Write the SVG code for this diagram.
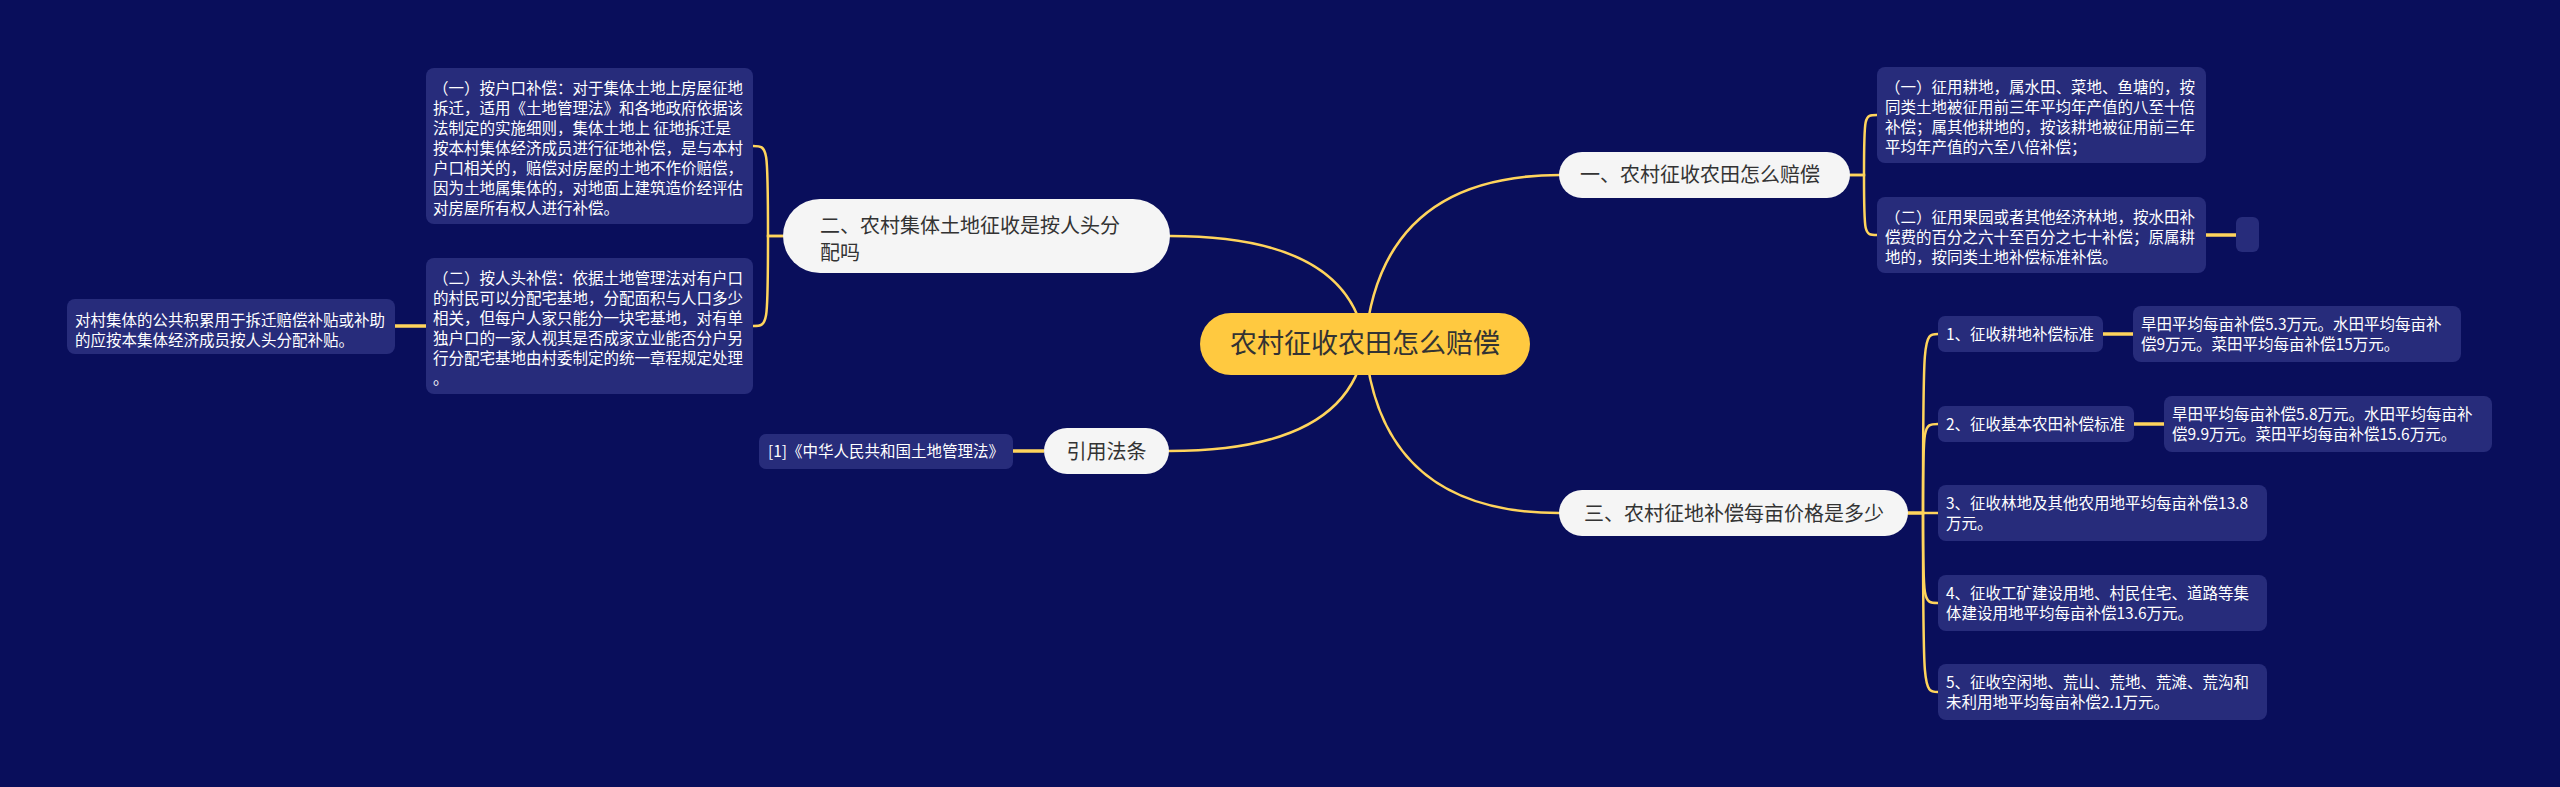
<svg xmlns="http://www.w3.org/2000/svg" width="2560" height="787" viewBox="0 0 2560 787">
<style>
.bg{fill:#090e5b}
.link{fill:none;stroke:#ffd45c;stroke-width:2.5;stroke-linecap:round}
.short{fill:none;stroke:#ffd45c;stroke-width:3.5}
.leaf{fill:#272c7b}
.topic{fill:#f5f5f5}
.root{fill:#ffc940}
text{font-family:"Noto Sans CJK SC","Microsoft YaHei","Noto Sans",sans-serif}
.lt{font-size:15.5px;fill:#ffffff}
.tt{font-size:20px;fill:#333333}
.rt{font-size:27px;fill:#333333}
</style>
<rect class="bg" x="0" y="0" width="2560" height="787"/>
<g id="connectors">
<path class="link" d="M1365,344 Q1350,236 1170,236"/>
<path class="link" d="M1365,344 Q1380,175 1560,175"/>
<path class="link" d="M1365,344 Q1350,451 1169,451"/>
<path class="link" d="M1365,344 Q1380,513 1559,513"/>
<path class="link" d="M783,236 H768 C768,146 768,146 753,146"/>
<path class="link" d="M783,236 H768 C768,326 768,326 753,326"/>
<path class="link" d="M1850,175 H1864 C1864,115 1864,115 1877,115"/>
<path class="link" d="M1850,175 H1864 C1864,235 1864,235 1877,235"/>
<path class="link" d="M1908,513 H1923 C1923,334 1923,334 1938,334"/>
<path class="link" d="M1908,513 H1923 C1923,424 1923,424 1938,424"/>
<path class="link" d="M1908,513 H1938"/>
<path class="link" d="M1908,513 H1923 C1923,603 1923,603 1938,603"/>
<path class="link" d="M1908,513 H1923 C1923,692 1923,692 1938,692"/>
<path class="short" d="M426,326 H395"/>
<path class="short" d="M1044,451 H1013"/>
<path class="short" d="M2206,235 H2236"/>
<path class="short" d="M2103,334 H2133"/>
<path class="short" d="M2134,424 H2164"/>
</g>
<g id="root">
<rect class="root" x="1200" y="313" width="330" height="62" rx="31"/>
<text class="rt" x="1365" y="353" text-anchor="middle">农村征收农田怎么赔偿</text>
</g>
<g id="topic1">
<rect class="topic" x="1559" y="152" width="291" height="46" rx="23"/>
<text class="tt" x="1580" y="182">一、农村征收农田怎么赔偿</text>
</g>
<g id="topic2">
<rect class="topic" x="783" y="199" width="387" height="74" rx="37"/>
<text class="tt" x="820" y="233">二、农村集体土地征收是按人头分</text>
<text class="tt" x="820" y="260">配吗</text>
</g>
<g id="topic3">
<rect class="topic" x="1559" y="490" width="349" height="46" rx="23"/>
<text class="tt" x="1584" y="521">三、农村征地补偿每亩价格是多少</text>
</g>
<g id="topic4">
<rect class="topic" x="1044" y="428" width="125" height="46" rx="23"/>
<text class="tt" x="1106.5" y="459" text-anchor="middle">引用法条</text>
</g>
<g id="leaf-l1">
<rect class="leaf" x="426" y="68" width="327" height="156" rx="8"/>
<text class="lt" x="433" y="94">（一）按户口补偿：对于集体土地上房屋征地</text>
<text class="lt" x="433" y="114">拆迁，适用《土地管理法》和各地政府依据该</text>
<text class="lt" x="433" y="134">法制定的实施细则，集体土地上 征地拆迁是</text>
<text class="lt" x="433" y="154">按本村集体经济成员进行征地补偿，是与本村</text>
<text class="lt" x="433" y="174">户口相关的，赔偿对房屋的土地不作价赔偿，</text>
<text class="lt" x="433" y="194">因为土地属集体的，对地面上建筑造价经评估</text>
<text class="lt" x="433" y="214">对房屋所有权人进行补偿。</text>
</g>
<g id="leaf-l2">
<rect class="leaf" x="426" y="258" width="327" height="136" rx="8"/>
<text class="lt" x="433" y="284">（二）按人头补偿：依据土地管理法对有户口</text>
<text class="lt" x="433" y="304">的村民可以分配宅基地，分配面积与人口多少</text>
<text class="lt" x="433" y="324">相关，但每户人家只能分一块宅基地，对有单</text>
<text class="lt" x="433" y="344">独户口的一家人视其是否成家立业能否分户另</text>
<text class="lt" x="433" y="364">行分配宅基地由村委制定的统一章程规定处理</text>
<text class="lt" x="433" y="384">。</text>
</g>
<g id="leaf-l3">
<rect class="leaf" x="67" y="299" width="328" height="55" rx="8"/>
<text class="lt" x="75" y="326">对村集体的公共积累用于拆迁赔偿补贴或补助</text>
<text class="lt" x="75" y="346">的应按本集体经济成员按人头分配补贴。</text>
</g>
<g id="leaf-ref">
<rect class="leaf" x="759" y="434" width="254" height="35" rx="7"/>
<text class="lt" x="768" y="457">[1]《中华人民共和国土地管理法》</text>
</g>
<g id="leaf-r1">
<rect class="leaf" x="1877" y="67" width="329" height="96" rx="8"/>
<text class="lt" x="1885" y="93">（一）征用耕地，属水田、菜地、鱼塘的，按</text>
<text class="lt" x="1885" y="113">同类土地被征用前三年平均年产值的八至十倍</text>
<text class="lt" x="1885" y="133">补偿；属其他耕地的，按该耕地被征用前三年</text>
<text class="lt" x="1885" y="153">平均年产值的六至八倍补偿；</text>
</g>
<g id="leaf-r2">
<rect class="leaf" x="1877" y="197" width="329" height="76" rx="8"/>
<text class="lt" x="1885" y="223">（二）征用果园或者其他经济林地，按水田补</text>
<text class="lt" x="1885" y="243">偿费的百分之六十至百分之七十补偿；原属耕</text>
<text class="lt" x="1885" y="263">地的，按同类土地补偿标准补偿。</text>
</g>
<g id="leaf-r2-empty">
<rect class="leaf" x="2236" y="217" width="23" height="35" rx="6"/>
</g>
<g id="item1">
<rect class="leaf" x="1938" y="316" width="165" height="36" rx="7"/>
<text class="lt" x="1946" y="340">1、征收耕地补偿标准</text>
</g>
<g id="item1-detail">
<rect class="leaf" x="2133" y="306" width="328" height="56" rx="8"/>
<text class="lt" x="2141" y="330">旱田平均每亩补偿5.3万元。水田平均每亩补</text>
<text class="lt" x="2141" y="350">偿9万元。菜田平均每亩补偿15万元。</text>
</g>
<g id="item2">
<rect class="leaf" x="1938" y="406" width="196" height="36" rx="7"/>
<text class="lt" x="1946" y="430">2、征收基本农田补偿标准</text>
</g>
<g id="item2-detail">
<rect class="leaf" x="2164" y="396" width="328" height="56" rx="8"/>
<text class="lt" x="2172" y="420">旱田平均每亩补偿5.8万元。水田平均每亩补</text>
<text class="lt" x="2172" y="440">偿9.9万元。菜田平均每亩补偿15.6万元。</text>
</g>
<g id="item3">
<rect class="leaf" x="1938" y="485" width="329" height="56" rx="8"/>
<text class="lt" x="1946" y="509">3、征收林地及其他农用地平均每亩补偿13.8</text>
<text class="lt" x="1946" y="529">万元。</text>
</g>
<g id="item4">
<rect class="leaf" x="1938" y="575" width="329" height="56" rx="8"/>
<text class="lt" x="1946" y="599">4、征收工矿建设用地、村民住宅、道路等集</text>
<text class="lt" x="1946" y="619">体建设用地平均每亩补偿13.6万元。</text>
</g>
<g id="item5">
<rect class="leaf" x="1938" y="664" width="329" height="56" rx="8"/>
<text class="lt" x="1946" y="688">5、征收空闲地、荒山、荒地、荒滩、荒沟和</text>
<text class="lt" x="1946" y="708">未利用地平均每亩补偿2.1万元。</text>
</g>
</svg>
